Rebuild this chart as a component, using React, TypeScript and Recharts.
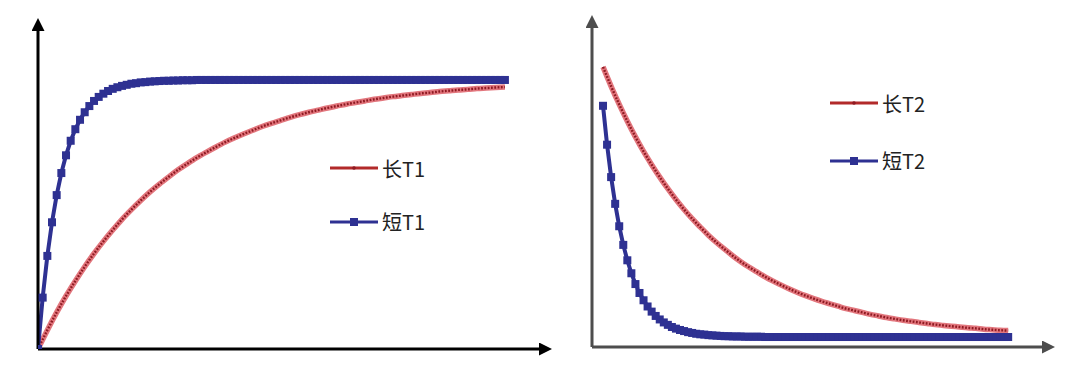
import React from 'react';
import { LineChart, Line, XAxis, YAxis, Legend } from 'recharts';

// Left panel: T1 recovery (long = sampled every 2 steps, short = every step)
const longT1 = [0, 0.070, 0.136, 0.197, 0.253, 0.306, 0.355, 0.400, 0.442, 0.482, 0.518, 0.552, 0.584, 0.613, 0.640, 0.666, 0.689, 0.711, 0.731, 0.750, 0.768, 0.784, 0.799, 0.813, 0.827, 0.839, 0.850, 0.861, 0.871, 0.880, 0.888, 0.896, 0.903, 0.910, 0.916, 0.922, 0.928, 0.933, 0.938, 0.942, 0.946, 0.950, 0.953, 0.957, 0.960, 0.963, 0.965, 0.968, 0.970, 0.972, 0.974];
const shortT1 = [
  0, 0.191, 0.346, 0.471, 0.572, 0.654, 0.720, 0.774, 0.817, 0.852,
  0.880, 0.903, 0.922, 0.937, 0.949, 0.959, 0.967, 0.973, 0.978, 0.982,
  0.986, 0.988, 0.991, 0.992, 0.994, 0.995, 0.996, 0.997, 0.997, 0.998,
  0.998, 0.999, 0.999, 0.999, 1, 1, 1, 1, 1, 1,
  1, 1, 1, 1, 1, 1, 1, 1, 1, 1,
  1, 1, 1, 1, 1, 1, 1, 1, 1, 1,
  1, 1, 1, 1, 1, 1, 1, 1, 1, 1,
  1, 1, 1, 1, 1, 1, 1, 1, 1, 1,
  1, 1, 1, 1, 1, 1, 1, 1, 1, 1,
  1, 1, 1, 1, 1, 1, 1, 1, 1, 1,
  1,
];

// Right panel: T2 decay
const longT2 = [1, 0.928, 0.861, 0.799, 0.741, 0.687, 0.638, 0.592, 0.549, 0.509, 0.472, 0.438, 0.407, 0.377, 0.350, 0.325, 0.301, 0.279, 0.259, 0.241, 0.223, 0.207, 0.192, 0.178, 0.165, 0.153, 0.142, 0.132, 0.123, 0.114, 0.105, 0.098, 0.091, 0.084, 0.078, 0.072, 0.067, 0.062, 0.058, 0.054, 0.050, 0.046, 0.043, 0.040, 0.037, 0.034, 0.032, 0.029, 0.027, 0.025, 0.024];
const shortT2 = [
  0.856, 0.712, 0.592, 0.493, 0.410, 0.341, 0.284, 0.236, 0.196, 0.163,
  0.136, 0.113, 0.094, 0.078, 0.065, 0.054, 0.045, 0.037, 0.031, 0.026,
  0.022, 0.018, 0.015, 0.012, 0.010, 0.009, 0.007, 0.006, 0.005, 0.004,
  0.003, 0.003, 0.002, 0.002, 0.002, 0.001, 0.001, 0.001, 0.001, 0.001,
  0, 0, 0, 0, 0, 0, 0, 0, 0, 0,
  0, 0, 0, 0, 0, 0, 0, 0, 0, 0,
  0, 0, 0, 0, 0, 0, 0, 0, 0, 0,
  0, 0, 0, 0, 0, 0, 0, 0, 0, 0,
  0, 0, 0, 0, 0, 0, 0, 0, 0, 0,
  0, 0, 0, 0, 0, 0, 0, 0, 0, 0,
  0,
];

const legendT1 = ['长T1', '短T1'];
const legendT2 = ['长T2', '短T2'];

const BLUE = '#2e3192';
const PINK = '#e2767d';
const DARKRED = '#8e1a22';
const LEGEND_RED = '#b22a2a';

const coarse = (arr: number[]) => arr.map((v, i) => ({ t: i * 2, v }));
const fine = (arr: number[]) => arr.map((v, i) => ({ t: i, v }));

const squareDot = (p: any) => {
  const { cx, cy, index } = p;
  if (cx == null || cy == null) return <g key={`e-${index}`} />;
  return <rect key={`sq-${index}`} x={cx - 4} y={cy - 4} width={8} height={8} fill={BLUE} />;
};

const makeLegend = (labels: string[], gap: number) => () => (
  <div style={{ fontFamily: '"Noto Sans CJK SC", sans-serif', fontSize: 20, color: '#222' }}>
    {labels.map((lab, i) => (
      <div key={lab} style={{ display: 'flex', alignItems: 'center', height: 24, marginBottom: i === 0 ? gap : 0 }}>
        <svg width={52} height={24} style={{ display: 'block' }}>
          {i === 0 ? (
            <>
              <line x1={0} y1={11} x2={48} y2={11} stroke={LEGEND_RED} strokeWidth={3} />
              <circle cx={24} cy={11} r={1.8} fill={DARKRED} />
            </>
          ) : (
            <>
              <line x1={0} y1={12} x2={48} y2={12} stroke={BLUE} strokeWidth={3} />
              <rect x={20} y={8} width={8} height={8} fill={BLUE} />
            </>
          )}
        </svg>
        <span style={{ lineHeight: '24px', whiteSpace: 'nowrap' }}>{lab}</span>
      </div>
    ))}
  </div>
);

const Arrow = ({ id, color }: { id: string; color: string }) => (
  <marker id={id} viewBox="0 0 13 13" markerUnits="userSpaceOnUse" markerWidth={13} markerHeight={13} refX={0} refY={6.5} orient="auto-start-reverse">
    <path d="M0,0 L13,6.5 L0,13 z" fill={color} />
  </marker>
);

export default function App() {
  return (
    <div style={{ position: 'absolute', left: 0, top: 0, width: 1073, height: 370, background: '#fff', overflow: 'hidden' }}>
      <div style={{ position: 'absolute', left: 0, top: 0 }}>
        <LineChart width={560} height={370} margin={{ top: 31, right: 21, bottom: 20, left: 37 }}>
          <defs>
            <Arrow id="arrowL" color="#000" />
          </defs>
          <XAxis type="number" dataKey="t" domain={[0, 107.3]} allowDataOverflow tick={false} tickLine={false} height={1}
            axisLine={{ stroke: '#000', strokeWidth: 3, markerEnd: 'url(#arrowL)' }} />
          <YAxis type="number" domain={[0, 1.182]} allowDataOverflow tick={false} tickLine={false} width={1}
            axisLine={{ stroke: '#000', strokeWidth: 3, markerStart: 'url(#arrowL)' }} />
          <Line data={coarse(longT1)} dataKey="v" type="monotone" stroke={PINK} strokeWidth={5.5} dot={false} activeDot={false} isAnimationActive={false} legendType="none" />
          <Line data={coarse(longT1)} dataKey="v" type="monotone" stroke={DARKRED} strokeWidth={2.4} strokeDasharray="1.8 1.5" dot={false} activeDot={false} isAnimationActive={false} legendType="none" />
          <Line data={fine(shortT1)} dataKey="v" type="linear" stroke={BLUE} strokeWidth={4} dot={squareDot} activeDot={false} isAnimationActive={false} legendType="none" />
          <Legend layout="vertical" align="center" verticalAlign="middle" content={makeLegend(legendT1, 29)}
            wrapperStyle={{ left: 330, top: 157, width: 140, height: 80 }} />
        </LineChart>
      </div>
      <div style={{ position: 'absolute', left: 560, top: 0 }}>
        <LineChart width={513} height={370} margin={{ top: 28, right: 31, bottom: 22, left: 31 }}>
          <defs>
            <Arrow id="arrowR" color="#4d4d4d" />
          </defs>
          <XAxis type="number" dataKey="t" domain={[-2.72, 108.35]} allowDataOverflow tick={false} tickLine={false} height={1}
            axisLine={{ stroke: '#4d4d4d', strokeWidth: 3, markerEnd: 'url(#arrowR)' }} />
          <YAxis type="number" domain={[-0.037, 1.144]} allowDataOverflow tick={false} tickLine={false} width={1}
            axisLine={{ stroke: '#4d4d4d', strokeWidth: 3, markerStart: 'url(#arrowR)' }} />
          <Line data={coarse(longT2)} dataKey="v" type="monotone" stroke={PINK} strokeWidth={5.5} dot={false} activeDot={false} isAnimationActive={false} legendType="none" />
          <Line data={coarse(longT2)} dataKey="v" type="monotone" stroke={DARKRED} strokeWidth={2.4} strokeDasharray="1.8 1.5" dot={false} activeDot={false} isAnimationActive={false} legendType="none" />
          <Line data={fine(shortT2)} dataKey="v" type="linear" stroke={BLUE} strokeWidth={4} dot={squareDot} activeDot={false} isAnimationActive={false} legendType="none" />
          <Legend layout="vertical" align="center" verticalAlign="middle" content={makeLegend(legendT2, 33)}
            wrapperStyle={{ left: 270, top: 92, width: 140, height: 84 }} />
        </LineChart>
      </div>
    </div>
  );
}
